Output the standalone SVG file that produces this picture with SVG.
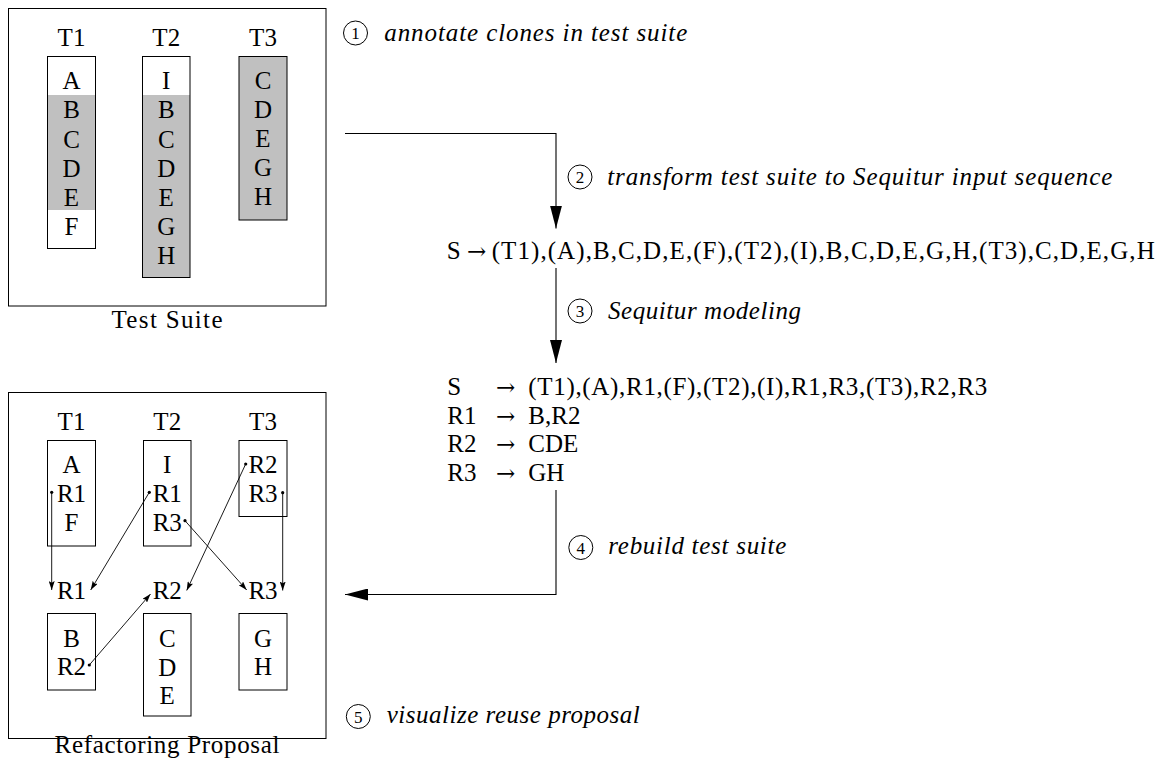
<svg xmlns="http://www.w3.org/2000/svg" width="1164" height="767" viewBox="0 0 1164 767">
<style>
text{font-family:"Liberation Serif","DejaVu Serif",serif;font-size:25px;fill:#000}
.c{text-anchor:middle}
.it{font-style:italic;font-family:"Liberation Serif","DejaVu Serif",serif}
.num{font-size:17px;text-anchor:middle}
.arr{font-family:"DejaVu Serif","DejaVu Sans",serif;font-size:23px}
.box{fill:none;stroke:#000;stroke-width:1}
.gray{fill:#c0c0c0;stroke:none}
.circ{fill:none;stroke:#000;stroke-width:1}
.conn{fill:none;stroke:#000;stroke-width:1.1}
.sm{fill:none;stroke:#000;stroke-width:0.9}
</style>
<defs>
<marker id="big" markerUnits="userSpaceOnUse" markerWidth="23" markerHeight="12" viewBox="0 0 23 12" refX="23" refY="6" orient="auto">
<path d="M0,0 L23,6 L0,12 Z" fill="#000"/>
</marker>
<marker id="small" markerUnits="userSpaceOnUse" markerWidth="9" markerHeight="6" viewBox="0 0 9 6" refX="9" refY="3" orient="auto">
<path d="M0,0 L9,3 L0,6 L1.8,3 Z" fill="#000"/>
</marker>
</defs>
<rect width="1164" height="767" fill="#fff"/>

<g id="test-suite">
<rect class="box" x="8.5" y="8.5" width="317.5" height="297.5"/>
<text class="c" x="71.5" y="46">T1</text>
<text class="c" x="166.25" y="46">T2</text>
<text class="c" x="263" y="46">T3</text>
<rect class="gray" x="47.5" y="95" width="48" height="115"/>
<rect class="box" x="47.5" y="56.5" width="48" height="192"/>
<rect class="gray" x="142.5" y="95" width="47.5" height="182.5"/>
<rect class="box" x="142.5" y="56.5" width="47.5" height="221"/>
<rect class="gray" x="239" y="56.5" width="48" height="163.5"/>
<rect class="box" x="239" y="56.5" width="48" height="163.5"/>
<text class="c" x="71.5" y="89">A</text>
<text class="c" x="71.5" y="118">B</text>
<text class="c" x="71.5" y="147.5">C</text>
<text class="c" x="71.5" y="176.5">D</text>
<text class="c" x="71.5" y="205.5">E</text>
<text class="c" x="71.5" y="234.5">F</text>
<text class="c" x="166.25" y="89">I</text>
<text class="c" x="166.25" y="118">B</text>
<text class="c" x="166.25" y="147.5">C</text>
<text class="c" x="166.25" y="176.5">D</text>
<text class="c" x="166.25" y="205.5">E</text>
<text class="c" x="166.25" y="234.5">G</text>
<text class="c" x="166.25" y="263.5">H</text>
<text class="c" x="263" y="89">C</text>
<text class="c" x="263" y="118">D</text>
<text class="c" x="263" y="147">E</text>
<text class="c" x="263" y="176">G</text>
<text class="c" x="263" y="205">H</text>
<text x="111.5" y="328" textLength="111" lengthAdjust="spacing">Test Suite</text>
</g>

<g id="refactoring-proposal">
<rect class="box" x="8.5" y="392.5" width="317.5" height="346"/>
<text class="c" x="71.5" y="430">T1</text>
<text class="c" x="167.25" y="430">T2</text>
<text class="c" x="263" y="430">T3</text>
<rect class="box" x="47.5" y="440.5" width="48" height="105.5"/>
<rect class="box" x="143.5" y="440.5" width="47.5" height="105.5"/>
<rect class="box" x="239" y="440.5" width="48" height="76"/>
<text class="c" x="71.5" y="473">A</text>
<text class="c" x="71.5" y="502">R1</text>
<text class="c" x="71.5" y="530.5">F</text>
<text class="c" x="167.25" y="473">I</text>
<text class="c" x="167.25" y="502">R1</text>
<text class="c" x="167.25" y="530.5">R3</text>
<text class="c" x="263" y="473">R2</text>
<text class="c" x="263" y="502">R3</text>
<text class="c" x="71.5" y="598.5">R1</text>
<text class="c" x="167.25" y="598.5">R2</text>
<text class="c" x="263" y="598.5">R3</text>
<rect class="box" x="47.5" y="613.5" width="48" height="76.5"/>
<rect class="box" x="143.5" y="613.5" width="47.5" height="102.5"/>
<rect class="box" x="239" y="613.5" width="48" height="76.5"/>
<text class="c" x="71.5" y="646.5">B</text>
<text class="c" x="71.5" y="675">R2</text>
<text class="c" x="167.25" y="646.5">C</text>
<text class="c" x="167.25" y="675.5">D</text>
<text class="c" x="167.25" y="704">E</text>
<text class="c" x="263" y="646.5">G</text>
<text class="c" x="263" y="675">H</text>
<text x="54.5" y="752.5" textLength="225" lengthAdjust="spacing">Refactoring Proposal</text>
</g>

<g id="step1">
<circle class="circ" cx="355.5" cy="33" r="12"/>
<text class="num" x="355.5" y="39">1</text>
<text class="it" x="384.3" y="40.7" textLength="303" lengthAdjust="spacing">annotate clones in test suite</text>
</g>
<g id="step2">
<circle class="circ" cx="580" cy="177" r="12"/>
<text class="num" x="580" y="183">2</text>
<text class="it" x="607.3" y="185" textLength="505" lengthAdjust="spacing">transform test suite to Sequitur input sequence</text>
</g>
<g id="sequence">
<text x="446.7" y="258.5">S</text>
<text class="arr" x="467" y="258.5">→</text>
<text x="491.7" y="258.5" textLength="663" lengthAdjust="spacing">(T1),(A),B,C,D,E,(F),(T2),(I),B,C,D,E,G,H,(T3),C,D,E,G,H</text>
</g>
<g id="step3">
<circle class="circ" cx="580" cy="311" r="12"/>
<text class="num" x="580" y="317">3</text>
<text class="it" x="608" y="318.5" textLength="193" lengthAdjust="spacing">Sequitur modeling</text>
</g>
<g id="grammar">
<text x="447.3" y="395">S</text>
<text class="arr" x="496" y="395">→</text>
<text x="528.3" y="395" textLength="459" lengthAdjust="spacing">(T1),(A),R1,(F),(T2),(I),R1,R3,(T3),R2,R3</text>
<text x="447.3" y="423.5">R1</text>
<text class="arr" x="496" y="423.5">→</text>
<text x="528.3" y="423.5">B,R2</text>
<text x="447.3" y="452">R2</text>
<text class="arr" x="496" y="452">→</text>
<text x="528.3" y="452">CDE</text>
<text x="447.3" y="480.5">R3</text>
<text class="arr" x="496" y="480.5">→</text>
<text x="528.3" y="480.5">GH</text>
</g>
<g id="step4">
<circle class="circ" cx="580.8" cy="547.5" r="12"/>
<text class="num" x="580.8" y="553.5">4</text>
<text class="it" x="608.3" y="553.5" textLength="178" lengthAdjust="spacing">rebuild test suite</text>
</g>
<g id="step5">
<circle class="circ" cx="358.3" cy="716.5" r="12"/>
<text class="num" x="358.3" y="722.5">5</text>
<text class="it" x="386.7" y="723" textLength="253" lengthAdjust="spacing">visualize reuse proposal</text>
</g>

<g id="connectors">
<polyline class="conn" points="345,133.5 556,133.5 556,228.5" marker-end="url(#big)"/>
<line class="conn" x1="556" y1="268" x2="556" y2="363" marker-end="url(#big)"/>
<polyline class="conn" points="556,490 556,594.5 345,594.5" marker-end="url(#big)"/>
<g fill="#000">
<circle cx="51.7" cy="492.3" r="1.6"/>
<circle cx="149.3" cy="492.3" r="1.6"/>
<circle cx="185" cy="520.7" r="1.6"/>
<circle cx="245.7" cy="464" r="1.6"/>
<circle cx="282.7" cy="492.7" r="1.6"/>
<circle cx="89.3" cy="665" r="1.6"/>
</g>
<line class="sm" x1="51.7" y1="492.3" x2="51.7" y2="590" marker-end="url(#small)"/>
<line class="sm" x1="149.3" y1="492.3" x2="90.7" y2="590" marker-end="url(#small)"/>
<line class="sm" x1="185" y1="520.7" x2="246.7" y2="590" marker-end="url(#small)"/>
<line class="sm" x1="245.7" y1="464" x2="186.7" y2="590.5" marker-end="url(#small)"/>
<line class="sm" x1="282.7" y1="492.7" x2="282.7" y2="590.5" marker-end="url(#small)"/>
<line class="sm" x1="89.3" y1="665" x2="150.5" y2="594" marker-end="url(#small)"/>
</g>
</svg>
